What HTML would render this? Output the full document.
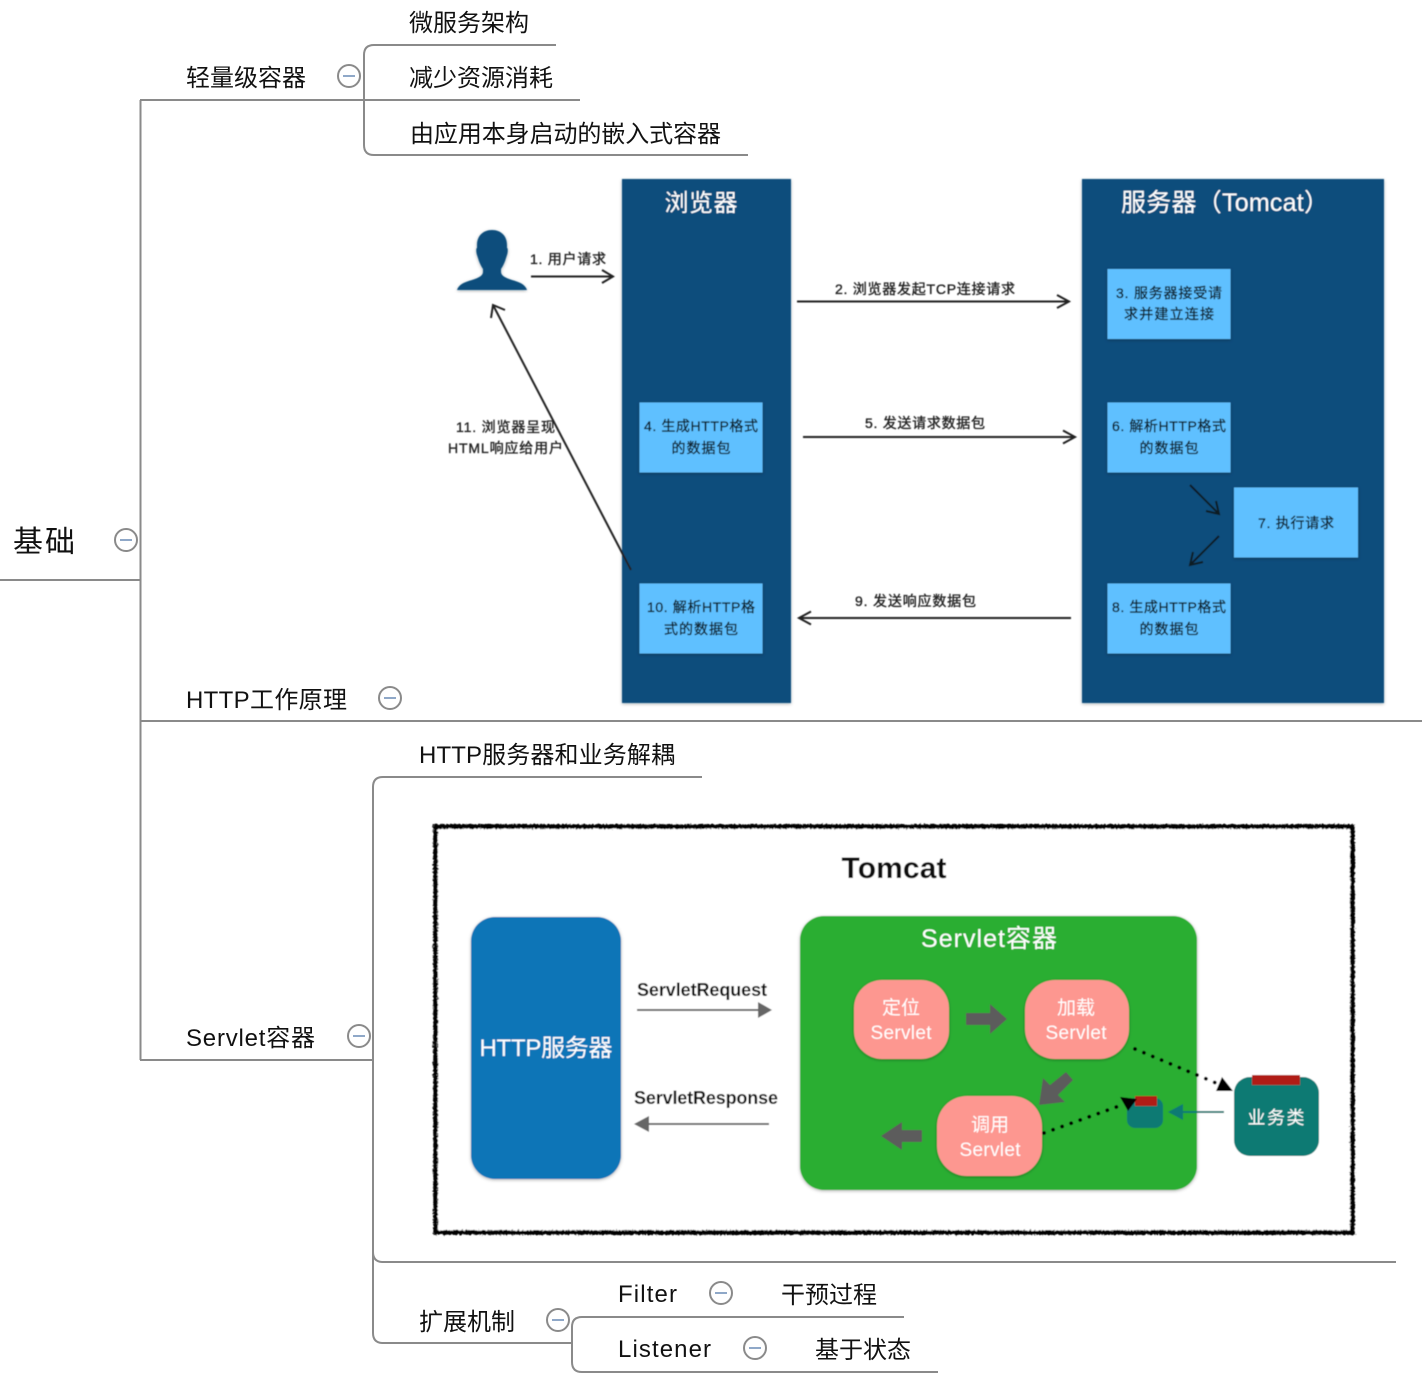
<!DOCTYPE html>
<html lang="zh">
<head>
<meta charset="utf-8">
<title>基础</title>
<style>
html,body{margin:0;padding:0;background:#fff;width:1422px;height:1390px;overflow:hidden}
svg{display:block}
text{font-family:"Liberation Sans","Noto Sans CJK SC",sans-serif}
.m{font-size:24px;fill:#111}
.s{font-size:14px;fill:#222;stroke:#222;stroke-width:.35}
.b{font-size:14px;fill:#10202c;stroke:#10202c;stroke-width:.35;text-anchor:middle}
.w{fill:#fff;text-anchor:middle}
.l{fill:none;stroke:#8a8a8a;stroke-width:2}
.a{fill:none;stroke:#222;stroke-width:2}
.t{font-size:18px;font-weight:bold;fill:#111;text-anchor:middle}
</style>
</head>
<body>
<svg width="1422" height="1390" viewBox="0 0 1422 1390" xmlns="http://www.w3.org/2000/svg">
<defs>
<filter id="sh" x="-5%" y="-5%" width="110%" height="110%"><feDropShadow dx="0" dy="1" stdDeviation="1.5" flood-color="#000" flood-opacity=".3"/></filter>
<filter id="soft" x="-2%" y="-2%" width="104%" height="104%"><feGaussianBlur stdDeviation=".45"/></filter>
<filter id="rough" x="-2%" y="-2%" width="104%" height="104%"><feTurbulence type="fractalNoise" baseFrequency=".5" numOctaves="2" seed="4"/><feDisplacementMap in="SourceGraphic" scale="3.500"/></filter>
</defs>

<!-- mind map connectors -->
<path class="l" d="M0 580H140M140.500 100V1060M140 100H580M140 721H1422M140 1060H373"/>
<path class="l" d="M556 45H374Q364 45 364 55V145Q364 155 374 155H748"/>
<path class="l" d="M702 777H383Q373 777 373 787V1333Q373 1343 383 1343H572"/>
<path class="l" d="M373 1252Q373 1262 383 1262H1396"/>
<path class="l" d="M904 1317H582Q572 1317 572 1327V1362Q572 1372 582 1372H938"/>

<!-- collapse icons -->
<g fill="#fff" stroke="#8a8a8a" stroke-width="2">
<circle cx="126" cy="540" r="11"/><circle cx="349" cy="76" r="11"/><circle cx="390" cy="698" r="11"/>
<circle cx="359" cy="1036" r="11"/><circle cx="558" cy="1320" r="11"/><circle cx="721" cy="1293" r="11"/><circle cx="755" cy="1348" r="11"/>
</g>
<g stroke="#8fa8c8" stroke-width="2">
<path d="M120 540h12M343 76h12M384 698h12M353 1036h12M552 1320h12M715 1293h12M749 1348h12"/>
</g>

<!-- mind map labels -->
<text x="13" y="552" style="font-size:30px;fill:#111" textLength="62">基础</text>
<text class="m" x="186" y="86" textLength="120">轻量级容器</text>
<text class="m" x="409" y="31" textLength="120">微服务架构</text>
<text class="m" x="409" y="86" textLength="144">减少资源消耗</text>
<text class="m" x="410" y="142" textLength="311">由应用本身启动的嵌入式容器</text>
<text class="m" x="186" y="708" textLength="161">HTTP工作原理</text>
<text class="m" x="419" y="763" textLength="256">HTTP服务器和业务解耦</text>
<text class="m" x="186" y="1046" textLength="129">Servlet容器</text>
<text class="m" x="419" y="1330" textLength="96">扩展机制</text>
<text class="m" x="618" y="1302" textLength="59">Filter</text>
<text class="m" x="781" y="1303" textLength="96">干预过程</text>
<text class="m" x="618" y="1357" textLength="93">Listener</text>
<text class="m" x="815" y="1358" textLength="96">基于状态</text>

<!-- HTTP diagram -->
<g filter="url(#soft)">
<rect x="622" y="179" width="169" height="524" fill="#094d7c" filter="url(#sh)"/>
<rect x="1082" y="179" width="302" height="524" fill="#094d7c" filter="url(#sh)"/>
<text class="w" x="701" y="211" style="font-size:24px" textLength="73">浏览器</text>
<text x="1121" y="211" style="font-size:25px;fill:#fff" textLength="208">服务器（Tomcat）</text>

<g fill="#5ec0ff" filter="url(#sh)">
<rect x="1107.500" y="269" width="123" height="70"/>
<rect x="639.500" y="402.500" width="123" height="70"/>
<rect x="1107.500" y="402.500" width="123" height="70"/>
<rect x="1234" y="487.500" width="124" height="70"/>
<rect x="639.500" y="583.500" width="123" height="70"/>
<rect x="1107.500" y="583.500" width="123" height="70"/>
</g>
<text class="b" x="1169" y="298" textLength="106">3. 服务器接受请</text>
<text class="b" x="1169" y="319" textLength="90">求并建立连接</text>
<text class="b" x="701" y="431" textLength="114">4. 生成HTTP格式</text>
<text class="b" x="701" y="453" textLength="59">的数据包</text>
<text class="b" x="1169" y="431" textLength="114">6. 解析HTTP格式</text>
<text class="b" x="1169" y="453" textLength="59">的数据包</text>
<text class="b" x="1296" y="528" textLength="76">7. 执行请求</text>
<text class="b" x="701" y="612" textLength="108">10. 解析HTTP格</text>
<text class="b" x="701" y="634" textLength="74">式的数据包</text>
<text class="b" x="1169" y="612" textLength="114">8. 生成HTTP格式</text>
<text class="b" x="1169" y="634" textLength="59">的数据包</text>

<!-- person -->
<path d="M492 230c-9 0-15 6-15 15v3c-1 0-1 4 0 7l1 3c1 4 3 8 5 11v3c0 4-5 6-11 8-7 2-13 4-15 10h70c-2-6-8-8-15-10-6-2-11-4-11-8v-3c2-3 4-7 5-11l1-3c1-3 1-7 0-7v-3c0-9-6-15-15-15z" fill="#094d7c" filter="url(#sh)"/>

<!-- HTTP arrows -->
<path class="a" d="M531 276.500H613M602 270l11 6.500-11 6.500"/>
<path class="a" d="M797 301.500H1069M1057 295l12 6.500-12 6.500"/>
<path class="a" d="M803 437H1075M1063 430.500l12 6.500-12 6.500"/>
<path class="a" d="M1071 618H799M811 611.500l-12 6.500 12 6.500"/>
<path class="a" d="M631 570L493 305M491 318l2-13 12 5"/>
<path d="M1190 485L1219 514M1206 511l13 3-3-13M1219 536L1190 565M1193 552l-3 13 13-3" fill="none" stroke="#0b1a24" stroke-width="2"/>
<text class="s" x="530" y="264" textLength="76">1. 用户请求</text>
<text class="s" x="835" y="294" textLength="180">2. 浏览器发起TCP连接请求</text>
<text class="s" x="865" y="428" textLength="120">5. 发送请求数据包</text>
<text class="s" x="855" y="606" textLength="121">9. 发送响应数据包</text>
<text class="s" x="456" y="432" textLength="99">11. 浏览器呈现</text>
<text class="s" x="448" y="453" textLength="115">HTML响应给用户</text>
</g>

<!-- Tomcat frame -->
<g filter="url(#soft)">
<rect x="435.500" y="826.500" width="917" height="406" fill="#fff"/>
<rect x="435.500" y="826.500" width="917" height="406" fill="none" stroke="#000" stroke-width="4.500" filter="url(#rough)"/>
<text x="894" y="878" style="font-size:30px;font-weight:bold;fill:#111;text-anchor:middle" textLength="105">Tomcat</text>

<rect x="471" y="917" width="150" height="262" rx="24" fill="#1074b7" filter="url(#sh)"/>
<text class="w" x="546" y="1056" style="font-size:24px" textLength="133">HTTP服务器</text>

<text class="t" x="702" y="996" textLength="130">ServletRequest</text>
<text class="t" x="706" y="1104" textLength="144">ServletResponse</text>
<path d="M637 1010H760" stroke="#666" stroke-width="2"/>
<path d="M758 1002l14 8-14 8z" fill="#666"/>
<path d="M648 1124H769" stroke="#666" stroke-width="2"/>
<path d="M649 1116l-15 8 15 8z" fill="#666"/>

<rect x="800" y="916" width="397" height="274" rx="24" fill="#2bae33" filter="url(#sh)"/>
<text class="w" x="989" y="947" style="font-size:25px" textLength="136">Servlet容器</text>

<g fill="#fd9790" filter="url(#sh)">
<rect x="854" y="980" width="95" height="79" rx="28"/>
<rect x="1025" y="980" width="104" height="79" rx="30"/>
<rect x="937" y="1096" width="105" height="80" rx="30"/>
</g>
<g style="font-size:19px">
<text class="w" x="901" y="1014" textLength="38">定位</text>
<text class="w" x="901" y="1039" textLength="61">Servlet</text>
<text class="w" x="1076" y="1014" textLength="38">加载</text>
<text class="w" x="1076" y="1039" textLength="61">Servlet</text>
<text class="w" x="990" y="1131" textLength="38">调用</text>
<text class="w" x="990" y="1156" textLength="61">Servlet</text>
</g>

<g fill="#5c5c5c">
<path d="M966 1013H990V1004L1007 1019 990 1034V1025H966z"/>
<path d="M1066 1072L1073 1080 1058 1095 1065 1102 1039 1105 1043 1078 1050 1085z"/>
<path d="M922 1130H902V1122L881 1136 902 1150V1142H922z"/>
</g>

<g fill="#117a73">
<rect x="1234" y="1077" width="85" height="79" rx="16"/>
<rect x="1127" y="1098" width="36" height="30" rx="8"/>
</g>
<g fill="#b01e15">
<rect x="1252" y="1075" width="48" height="10"/>
<rect x="1135" y="1096" width="22" height="10"/>
</g>
<text class="w" x="1276" y="1124" style="font-size:18px" textLength="57">业务类</text>
<path d="M1224 1112H1180" stroke="#117a73" stroke-width="2"/>
<path d="M1183 1104l-15 8 15 8z" fill="#117a73"/>
<path d="M1135 1049L1216 1083" stroke="#000" stroke-width="3.800" stroke-dasharray="0.100 9.500" stroke-linecap="round"/>
<path d="M1216 1091L1222 1077 1233 1091z" fill="#000"/>
<path d="M1044 1133L1122 1105" stroke="#000" stroke-width="3.800" stroke-dasharray="0.100 9.500" stroke-linecap="round"/>
<path d="M1120 1097L1137 1099 1128 1111z" fill="#000"/>
</g>
</svg>
</body>
</html>
